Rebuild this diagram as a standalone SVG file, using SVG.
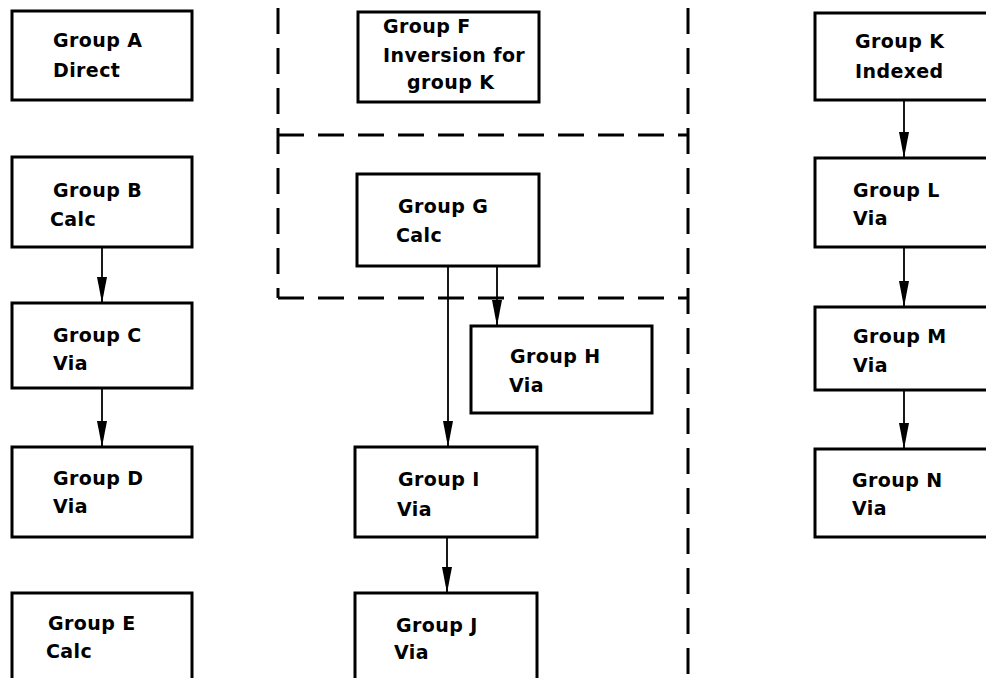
<svg xmlns="http://www.w3.org/2000/svg" width="986" height="678" viewBox="0 0 986 678">
  <style>
    .box { fill: #fff; stroke: #000; stroke-width: 3; }
    .lbl { font-family: "DejaVu Sans", "Liberation Sans", sans-serif; font-size: 19px; font-weight: bold; letter-spacing: 0.4px; fill: #000; }
    .conn { stroke: #000; stroke-width: 1.8; fill: none; marker-end: url(#arrow); }
    .dash { stroke: #000; stroke-width: 3; fill: none; stroke-dasharray: 26 14; }
  </style>
  <defs>
    <marker id="arrow" markerUnits="userSpaceOnUse" markerWidth="28" markerHeight="12" refX="26" refY="5" orient="auto">
      <path d="M0,0 L26,5 L0,10 Z" fill="#000"/>
    </marker>
  </defs>
  <rect width="986" height="678" fill="#fff"/>

  <!-- dashed enclosures around the middle column -->
  <g id="boundaries">
    <path class="dash" d="M278,8 V298"/>
    <path class="dash" d="M688,8 V678"/>
    <path class="dash" d="M278,135 H688"/>
    <path class="dash" d="M278,298 H688"/>
  </g>

  <!-- connectors -->
  <g id="connectors">
    <path class="conn" d="M102,247 V303"/>
    <path class="conn" d="M102,388 V447"/>
    <path class="conn" d="M448,266 V447"/>
    <path class="conn" d="M497,266 V326"/>
    <path class="conn" d="M447,537 V593"/>
    <path class="conn" d="M904,100 V158"/>
    <path class="conn" d="M904,247 V307"/>
    <path class="conn" d="M904,390 V449"/>
  </g>

  <!-- left column -->
  <g id="groupA">
    <rect class="box" x="12" y="11" width="180" height="89"/>
    <text class="lbl" x="53" y="47">Group A</text>
    <text class="lbl" x="53" y="77">Direct</text>
  </g>
  <g id="groupB">
    <rect class="box" x="12" y="157" width="180" height="90"/>
    <text class="lbl" x="53" y="197">Group B</text>
    <text class="lbl" x="50" y="226">Calc</text>
  </g>
  <g id="groupC">
    <rect class="box" x="12" y="303" width="180" height="85"/>
    <text class="lbl" x="53" y="342">Group C</text>
    <text class="lbl" x="53" y="370">Via</text>
  </g>
  <g id="groupD">
    <rect class="box" x="12" y="447" width="180" height="90"/>
    <text class="lbl" x="53" y="485">Group D</text>
    <text class="lbl" x="53" y="513">Via</text>
  </g>
  <g id="groupE">
    <rect class="box" x="12" y="593" width="180" height="95"/>
    <text class="lbl" x="48" y="630">Group E</text>
    <text class="lbl" x="46" y="658">Calc</text>
  </g>

  <!-- middle column -->
  <g id="groupF">
    <rect class="box" x="358" y="12" width="181" height="90"/>
    <text class="lbl" x="383" y="33">Group F</text>
    <text class="lbl" x="383" y="62">Inversion for</text>
    <text class="lbl" x="407" y="89">group K</text>
  </g>
  <g id="groupG">
    <rect class="box" x="357" y="174" width="182" height="92"/>
    <text class="lbl" x="398" y="213">Group G</text>
    <text class="lbl" x="396" y="242">Calc</text>
  </g>
  <g id="groupH">
    <rect class="box" x="471" y="326" width="181" height="87"/>
    <text class="lbl" x="510" y="363">Group H</text>
    <text class="lbl" x="509" y="392">Via</text>
  </g>
  <g id="groupI">
    <rect class="box" x="355" y="447" width="182" height="90"/>
    <text class="lbl" x="398" y="486">Group I</text>
    <text class="lbl" x="397" y="516">Via</text>
  </g>
  <g id="groupJ">
    <rect class="box" x="355" y="593" width="182" height="95"/>
    <text class="lbl" x="396" y="632">Group J</text>
    <text class="lbl" x="394" y="659">Via</text>
  </g>

  <!-- right column -->
  <g id="groupK">
    <rect class="box" x="815" y="13" width="181" height="87"/>
    <text class="lbl" x="855" y="48">Group K</text>
    <text class="lbl" x="855" y="78">Indexed</text>
  </g>
  <g id="groupL">
    <rect class="box" x="815" y="158" width="181" height="89"/>
    <text class="lbl" x="853" y="197">Group L</text>
    <text class="lbl" x="853" y="225">Via</text>
  </g>
  <g id="groupM">
    <rect class="box" x="815" y="307" width="181" height="83"/>
    <text class="lbl" x="853" y="343">Group M</text>
    <text class="lbl" x="853" y="372">Via</text>
  </g>
  <g id="groupN">
    <rect class="box" x="815" y="449" width="181" height="88"/>
    <text class="lbl" x="852" y="487">Group N</text>
    <text class="lbl" x="852" y="515">Via</text>
  </g>
</svg>
